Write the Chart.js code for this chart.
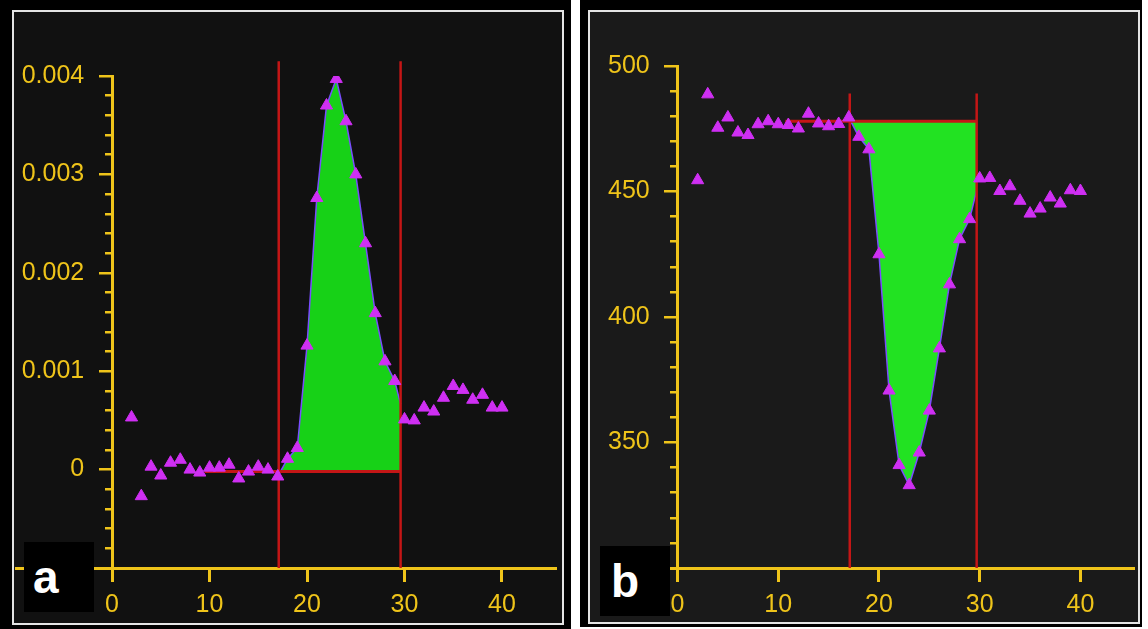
<!DOCTYPE html>
<html>
<head>
<meta charset="utf-8">
<script src="https://cdn.jsdelivr.net/npm/chart.js@4.4.1/dist/chart.umd.min.js"></script>
<style>
  html, body { margin: 0; padding: 0; background: #fff; }
  body { width: 1148px; height: 629px; position: relative; overflow: hidden; }
  .frame { position: absolute; background: #000; }
  .inner { position: absolute; box-sizing: border-box; border: 2px solid #e4e4e4; }
  .chart { position: absolute; top: 0; z-index: 1; }
  .tag { position: absolute; z-index: 2; background: #000; color: #fff; width: 70px; height: 70px;
         font: bold 46px 'Liberation Sans', Arial, sans-serif; line-height: 70px; box-sizing: border-box; }
</style>
</head>
<body>
<div class="frame" style="left:0;top:0;width:571px;height:629px"></div>
<div class="inner" style="left:12px;top:10px;width:552px;height:615px;background:#111"></div>
<div class="frame" style="left:580px;top:0;width:562px;height:627px"></div>
<div class="inner" style="left:588px;top:10px;width:552px;height:614px;background:#1a1a1a"></div>

<canvas id="chartA" class="chart" style="left:0" width="572" height="629"></canvas>
<canvas id="chartB" class="chart" style="left:580px" width="562" height="629"></canvas>

<div class="tag" style="left:24px;top:542px;padding-left:9px">a</div>
<div class="tag" style="left:600px;top:546px;padding-left:11px">b</div>

<script>
// time index shared by both traces
const frames = [2, 3, 4, 5, 6, 7, 8, 9, 10, 11, 12, 13, 14, 15, 16, 17, 18, 19, 20, 21,
                22, 23, 24, 25, 26, 27, 28, 29, 30, 31, 32, 33, 34, 35, 36, 37, 38, 39, 40];

// panel a
const signalA = [0.00053, -0.00027, 0.00003, -0.00006, 0.00007, 0.0001, 0.0, -0.00003, 0.00002, 0.00002,
                 0.00005, -0.00009, -0.00002, 0.00003, 0.0, -0.00007, 0.00011, 0.00022, 0.00126, 0.00276,
                 0.0037, 0.00397, 0.00354, 0.003, 0.0023, 0.00159, 0.0011, 0.0009, 0.00051, 0.0005,
                 0.00063, 0.00059, 0.00073, 0.00085, 0.00081, 0.00071, 0.00076, 0.00063, 0.00063];
const markersA = [17.1, 29.6];
const markerTopA = 0.00415;
const baseSpanA = [9.5, 29.6];
const baseLevelA = -0.00002;
const yMajorA = [0, 0.001, 0.002, 0.003, 0.004];
const yLabelsA = ['0', '0.001', '0.002', '0.003', '0.004'];

// panel b
const signalB = [454.5, 488.7, 475.4, 479.5, 473.5, 472.5, 476.8, 478, 476.8, 476.5,
                 475.1, 481, 477.1, 476, 476.9, 479.5, 471.8, 466.8, 425, 370.7,
                 341, 333, 346, 362.7, 387.5, 413, 431, 439, 455.2, 455.4,
                 450.2, 452.1, 446.3, 441.2, 443.2, 447.6, 445.2, 450.5, 450.2];
const markersB = [17.1, 29.7];
const markerTopB = 489;
const baseSpanB = [10.7, 29.7];
const baseLevelB = 478;
const yMajorB = [350, 400, 450, 500];
const yLabelsB = ['350', '400', '450', '500'];

const xTicks = [0, 10, 20, 30, 40];

const yellow = '#efc41a';
const red = '#c41616';
const magenta = '#cf2ff3';
const edge = '#7a4cff';
const font = { family: "'Liberation Sans', Arial, sans-serif", size: 25 };
// y axis sits at x = 0, so its labels get pushed off the axis with trailing spaces
const gap = '    ';

// curve between the two markers, ends interpolated at the marker positions
function windowCurve(xs, ys, lo, hi) {
  const at = (v) => {
    for (let i = 1; i < xs.length; i++) {
      if (xs[i] >= v) {
        const t = (v - xs[i - 1]) / (xs[i] - xs[i - 1]);
        return ys[i - 1] + t * (ys[i] - ys[i - 1]);
      }
    }
    return ys[ys.length - 1];
  };
  const pts = [{ x: lo, y: at(lo) }];
  xs.forEach((x, i) => { if (x > lo && x < hi) pts.push({ x, y: ys[i] }); });
  pts.push({ x: hi, y: at(hi) });
  return pts;
}

function isMajor(v, majors) {
  return majors.findIndex(m => Math.abs(v - m) < 1e-9);
}

function makeChart(id, cfg) {
  const green = cfg.green;
  return new Chart(document.getElementById(id), {
    type: 'scatter',
    data: {
      datasets: [
        {
          data: cfg.baseSpan.map(x => ({ x, y: cfg.baseLevel })),
          showLine: true, borderColor: red, borderWidth: 3, pointRadius: 0, order: 2
        },
        {
          data: windowCurve(frames, cfg.signal, cfg.markers[0], cfg.markers[1]),
          showLine: true, borderColor: edge, borderWidth: 1.5, pointRadius: 0, order: 3,
          fill: cfg.dip
            ? { target: 0, above: 'rgba(0,0,0,0)', below: green }
            : { target: 0, above: green, below: 'rgba(0,0,0,0)' }
        },
        {
          data: [{ x: cfg.markers[0], y: cfg.yMin }, { x: cfg.markers[0], y: cfg.markerTop }],
          showLine: true, borderColor: red, borderWidth: 2.5, pointRadius: 0, clip: false, order: 1
        },
        {
          data: [{ x: cfg.markers[1], y: cfg.yMin }, { x: cfg.markers[1], y: cfg.markerTop }],
          showLine: true, borderColor: red, borderWidth: 2.5, pointRadius: 0, clip: false, order: 1
        },
        {
          data: frames.map((x, i) => ({ x, y: cfg.signal[i] })),
          showLine: false, pointStyle: 'triangle', pointRadius: 7, borderWidth: 1,
          backgroundColor: magenta, borderColor: magenta, order: 0
        }
      ]
    },
    options: {
      responsive: false,
      animation: false,
      devicePixelRatio: 1,
      layout: { padding: cfg.padding },
      plugins: { legend: { display: false }, tooltip: { enabled: false } },
      scales: {
        x: {
          type: 'linear', position: 'bottom', min: cfg.xMin, max: cfg.xMax,
          afterBuildTicks: s => { s.ticks = xTicks.map(v => ({ value: v })); },
          afterFit: s => { s.height = 50; },
          ticks: { color: yellow, font, padding: 8, autoSkip: false, maxRotation: 0, callback: v => String(v) },
          grid: { drawOnChartArea: false, color: yellow, lineWidth: 3, tickLength: 14 },
          border: { color: yellow, width: 3 }
        },
        y: {
          type: 'linear', position: { x: 0 }, min: cfg.yMin, max: cfg.yMax,
          ticks: {
            stepSize: cfg.step, color: yellow, font, autoSkip: false,
            callback: v => {
              const k = isMajor(v, cfg.yMajor);
              return k >= 0 ? cfg.yLabels[k] + gap : '';
            }
          },
          grid: {
            drawOnChartArea: false, color: yellow, lineWidth: 2.5, tickLength: 12,
            tickBorderDash: ctx => isMajor(ctx.tick.value, cfg.yMajor) >= 0 ? [] : [6, 40]
          },
          border: { color: yellow, width: 3 }
        }
      }
    }
  });
}

makeChart('chartA', {
  signal: signalA, markers: markersA, markerTop: markerTopA,
  baseSpan: baseSpanA, baseLevel: baseLevelA,
  yMajor: yMajorA, yLabels: yLabelsA,
  yMin: -0.001, yMax: 0.004, step: 0.0002,
  xMin: -9.8, xMax: 45.5, dip: false, green: '#17d117',
  padding: { left: 16.5, right: 16.4, top: 76, bottom: 11 }
});

makeChart('chartB', {
  signal: signalB, markers: markersB, markerTop: markerTopB,
  baseSpan: baseSpanB, baseLevel: baseLevelB,
  yMajor: yMajorB, yLabels: yLabelsB,
  yMin: 300, yMax: 500, step: 10,
  xMin: -7.2, xMax: 45.3, dip: true, green: '#22e222',
  padding: { left: 25, right: 8.2, top: 66, bottom: 11 }
});
</script>
</body>
</html>
